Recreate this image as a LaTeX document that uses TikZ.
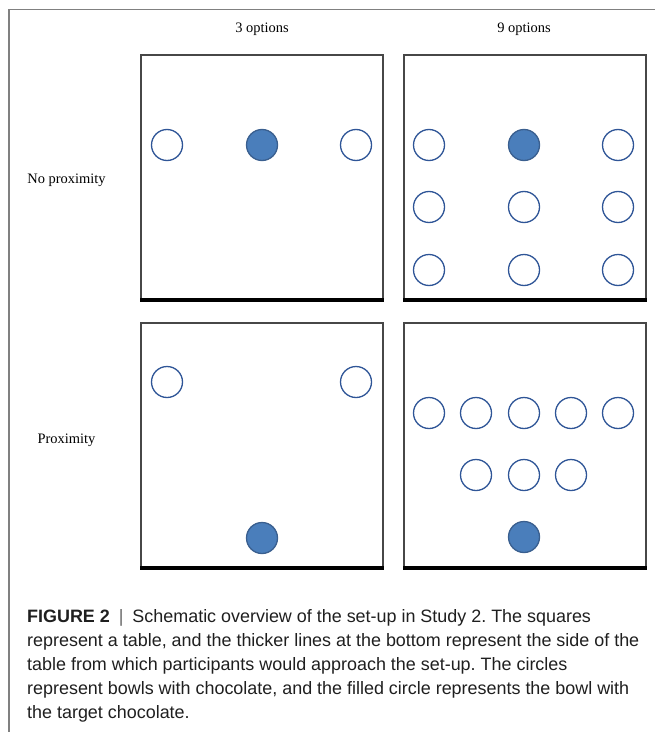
\documentclass[tikz,border=0pt]{standalone}
\usepackage{fontspec}
\setmainfont{Liberation Serif}
\newfontfamily\capfont{Liberation Sans}
\definecolor{bowlline}{HTML}{2F5597}
\definecolor{bowlfill}{HTML}{4A7EBB}
\definecolor{bowledge}{HTML}{3A5F8F}
\frenchspacing
\begin{document}
\begin{tikzpicture}[x=1bp,y=-1bp,
  frame/.style={draw=black!50, line width=1.5bp},
  tablebox/.style={draw=black!72, line width=1.3bp, minimum width=242bp, minimum height=244bp, inner sep=0pt},
  nearside/.style={line width=4bp, black},
  bowl/.style={circle, draw=bowlline, line width=1.3bp, minimum size=31bp, inner sep=0pt, fill=white},
  target/.style={bowl, fill=bowlfill, draw=bowledge},
  lab/.style={font=\fontsize{14.5}{17}\selectfont, inner sep=0pt, anchor=base},
  captext/.style={font=\capfont\fontsize{18}{24}\selectfont, anchor=base west, inner sep=0pt, text=black!88}]
\useasboundingbox (0,0) rectangle (655,732);
% outer frame
\draw[frame] (9,732) -- (9,9.5) -- (655,9.5);
% column and row labels
\node[lab] (c3) at (262,33) {3 options};
\node[lab] (c9) at (524,33) {9 options};
\node[lab] (rn) at (66.5,183) {No proximity};
\node[lab] (rp) at (66.5,443) {Proximity};
% tables
\node[tablebox] (tl) at (262,177) {};
\node[tablebox] (tr) at (525,177) {};
\node[tablebox] (bl) at (262,445) {};
\node[tablebox] (br) at (525,445) {};
\foreach \t in {tl,tr,bl,br}{
  \draw[nearside] (\t.south west) -- (\t.south east);
}
% No proximity, 3 options
\node[bowl] (a1) at (167,145) {};
\node[target] (a2) at (262,145) {};
\node[bowl] (a3) at (356,145) {};
% No proximity, 9 options
\node[bowl] (b1) at (429,145) {};
\node[target] (b2) at (524,145) {};
\node[bowl] (b3) at (618,145) {};
\node[bowl] (b4) at (429,207) {};
\node[bowl] (b5) at (524,207) {};
\node[bowl] (b6) at (618,207) {};
\node[bowl] (b7) at (429,270) {};
\node[bowl] (b8) at (524,270) {};
\node[bowl] (b9) at (618,270) {};
% Proximity, 3 options
\node[bowl] (c1) at (167,382) {};
\node[bowl] (c2) at (356,382) {};
\node[target] (c3t) at (262,538) {};
% Proximity, 9 options
\node[bowl] (d1) at (429,413) {};
\node[bowl] (d2) at (476,413) {};
\node[bowl] (d3) at (524,413) {};
\node[bowl] (d4) at (571,413) {};
\node[bowl] (d5) at (618,413) {};
\node[bowl] (d6) at (476,475) {};
\node[bowl] (d7) at (524,475) {};
\node[bowl] (d8) at (571,475) {};
\node[target] (d9) at (524,537) {};
% caption
\node[captext] (l1) at (27,622) {\textbf{FIGURE 2}\enspace{\color{black!60}|}\enspace Schematic overview of the set-up in Study 2. The squares};
\node[captext] (l2) at (27,646) {represent a table, and the thicker lines at the bottom represent the side of the};
\node[captext] (l3) at (27,670) {table from which participants would approach the set-up. The circles};
\node[captext] (l4) at (27,694) {represent bowls with chocolate, and the filled circle represents the bowl with};
\node[captext] (l5) at (27,718) {the target chocolate.};
\end{tikzpicture}
\end{document}
